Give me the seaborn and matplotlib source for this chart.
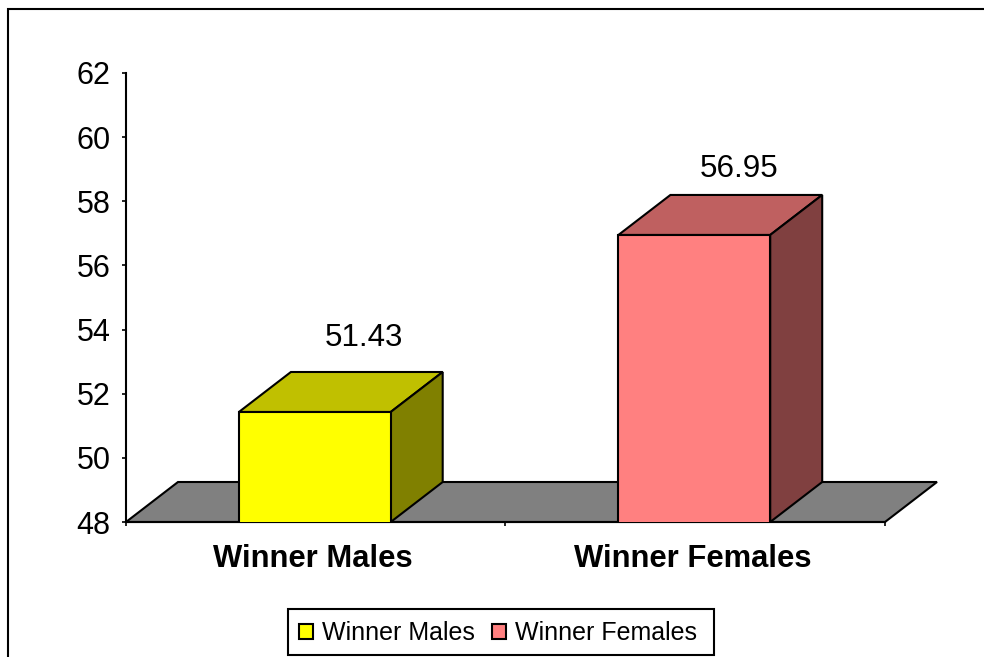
import pandas as pd
import matplotlib
matplotlib.use("Agg")
import matplotlib.pyplot as plt
import seaborn as sns
from matplotlib.patches import Patch, Rectangle
from matplotlib.transforms import ScaledTranslation

# Dados do grafico
categorias = ["Winner Males", "Winner Females"]
valores = [51.43, 56.95]
cores_frente = ["#FFFF00", "#FF8080"]
cores_topo = ["#C0C000", "#BF6060"]
cores_lado = ["#808000", "#804040"]
yticks = [48, 50, 52, 54, 56, 58, 60, 62]

L, T, R, B = 126, 73, 885, 522
W, H = 984, 657
LARG_BARRA = 0.4
# profundidade do efeito 3D em unidades dos eixos
DX = 52 / (R - L) * 2
DY = 40 / (B - T) * 14
XMIN, XMAX = -0.4975, 1.5025

sns.set_theme(style="white")
plt.rcParams["font.family"] = ["Liberation Sans", "DejaVu Sans"]

df = pd.DataFrame({"grupo": categorias, "valor": valores})

fig = plt.figure(figsize=(W / 100, H / 100), dpi=100)
ax = fig.add_axes([L / W, 1 - B / H, (R - L) / W, (B - T) / H])

sns.barplot(data=df, x="grupo", y="valor", hue="grupo", palette=cores_frente,
            width=LARG_BARRA, dodge=False, legend=False, edgecolor="black",
            linewidth=1.5, saturation=1, ax=ax, zorder=3)
ax.set_xlim(XMIN, XMAX)
ax.set_ylim(yticks[0], yticks[-1])

# chao cinza
ax.fill([XMIN, XMIN + DX, XMAX + DX, XMAX], [48, 48 + DY, 48 + DY, 48],
        fc="#808080", ec="black", lw=1.5, clip_on=False, zorder=1)

# faces de cima e do lado
for i, v in enumerate(valores):
    x0, x1 = i - LARG_BARRA / 2, i + LARG_BARRA / 2
    ax.fill([x0, x0 + DX, x1 + DX, x1], [v, v + DY, v + DY, v],
            fc=cores_topo[i], ec="black", lw=1.5, zorder=2)
    ax.fill([x1, x1 + DX, x1 + DX, x1], [48, 48 + DY, v + DY, v],
            fc=cores_lado[i], ec="black", lw=1.5, zorder=2)
    ax.annotate(f"{v:.2f}", (i + DX * 0.92, v + DY), xytext=([1, -2][i], [24.5, 19][i]),
                textcoords="offset points", ha="center", va="center",
                fontsize=22.6, color="black", zorder=5)

sns.despine(ax=ax, top=True, right=True)
for s in ["left", "bottom"]:
    ax.spines[s].set_color("black")
    ax.spines[s].set_linewidth(1.5)

ax.set_xlabel("")
ax.set_ylabel("")
ax.set_yticks(yticks)
ax.tick_params(axis="y", left=True, length=3, width=1.2, color="black", pad=8,
               labelsize=22, labelcolor="black")
ax.set_xticks([0, 1])
ax.set_xticklabels(categorias, fontsize=22.3, fontweight="bold", color="black")
ax.tick_params(axis="x", which="major", length=0, pad=16)
ax.set_xticks([XMIN, 0.5, XMAX], minor=True)
ax.tick_params(axis="x", which="minor", bottom=True, length=3, width=1.2, color="black")

# nomes das categorias um pouco para a esquerda
desloc = ScaledTranslation(-1.5 / 100, 0, fig.dpi_scale_trans)
for rot in ax.get_xticklabels():
    rot.set_transform(rot.get_transform() + desloc)

# legenda, a caixa fica separada porque tem mais folga a direita
fig.add_artist(Rectangle((288 / W, 1 - 655 / H), 426 / W, 46 / H, transform=fig.transFigure,
                         fc="white", ec="black", lw=1.5, zorder=8))
maos = [Patch(fc=cores_frente[i], ec="black", lw=1.5, label=categorias[i]) for i in range(2)]
leg = ax.legend(handles=maos, ncol=2, loc="center", bbox_to_anchor=(498 / W, 1 - 633 / H),
                bbox_transform=fig.transFigure, fontsize=18, frameon=False,
                handlelength=0.56, handleheight=0.56,
                handletextpad=0.36, columnspacing=0.68, borderpad=0.4, borderaxespad=0,
                labelcolor="black")
leg.remove()
leg.set_zorder(9)
fig.add_artist(leg)

# moldura externa que sai da imagem
fig.add_artist(Rectangle((8 / W, -0.05), 1.1, 1.05 - 9 / H, transform=fig.transFigure,
                         fc="none", ec="black", lw=1.5, zorder=10))

fig.savefig("out.png", dpi=100)
